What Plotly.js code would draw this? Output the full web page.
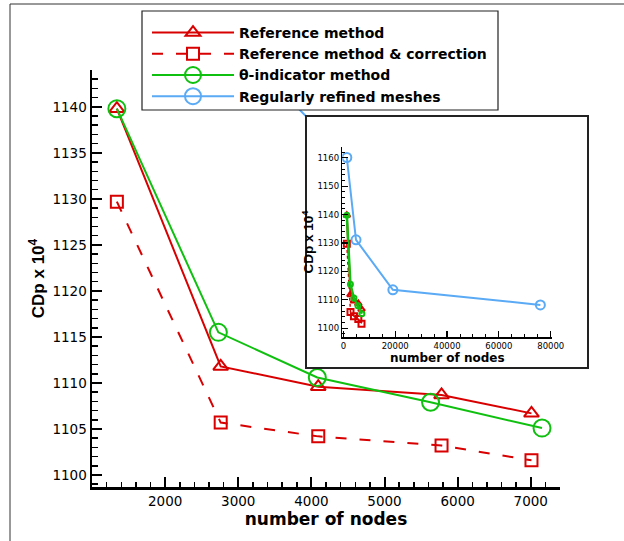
<!DOCTYPE html>
<html><head><meta charset="utf-8">
<script src="https://cdn.plot.ly/plotly-3.0.1.min.js"></script>
<style>html,body{margin:0;padding:0;background:#fff}#chart{width:624px;height:541px}</style>
</head><body><div id="chart"></div>
<script>
// ---- data ----
const seriesNames = ['Reference method', 'Reference method & correction', '\u03b8-indicator method', 'Regularly refined meshes'];
const refX   = [1340, 2760, 4094, 5780, 7010];
const refY   = [1139.8, 1111.8, 1109.6, 1108.7, 1106.7];
const corrX  = [1340, 2760, 4094, 5780, 7010];
const corrY  = [1129.7, 1105.7, 1104.2, 1103.2, 1101.6];
const thetaX = [1340, 2728, 4081, 5630, 7154];
const thetaY = [1139.8, 1115.5, 1110.6, 1107.9, 1105.1];
const regX   = [1340, 4890, 19100, 76000];
const regY   = [1160.1, 1131.1, 1113.5, 1108.2];
const mainXTicks  = [2000, 3000, 4000, 5000, 6000, 7000];
const mainYTicks  = [1100, 1105, 1110, 1115, 1120, 1125, 1130, 1135, 1140];
const insetXTicks = [0, 20000, 40000, 60000, 80000];
const insetYTicks = [1100, 1110, 1120, 1130, 1140, 1150, 1160];

// ---- styling ----
const RED = '#d80000', GREEN = '#10c010', BLUE = '#5aaaf5';
const W = 624, H = 541;
const px = v => v / W, py = v => 1 - v / H;
const tickFont = {family: 'DejaVu Sans', size: 13.5, color: '#000'};

function series(x, y, name, color, dash, symbol, msize, lw, xa, ya, legend) {
  return {
    type: 'scatter', mode: 'lines+markers', x: x, y: y, name: name,
    xaxis: xa, yaxis: ya, showlegend: legend, legendgroup: name,
    line: {color: color, width: lw, dash: dash},
    marker: {symbol: symbol, size: msize, color: color, line: {color: color, width: 2}},
    cliponaxis: true, hoverinfo: 'x+y'
  };
}

const traces = [
  series(refX, refY, seriesNames[0], RED, 'solid', 'triangle-up-open', 13, 2, 'x', 'y', true),
  series(corrX, corrY, seriesNames[1], RED, '11px,13px', 'square-open', 12, 2, 'x', 'y', true),
  series(thetaX, thetaY, seriesNames[2], GREEN, 'solid', 'circle-open', 17, 2, 'x', 'y', true),
  series(regX, regY, seriesNames[3], BLUE, 'solid', 'circle-open', 17, 2, 'x', 'y', true),
  // box subplot placeholder
  {type: 'scatter', x: [], y: [], xaxis: 'x2', yaxis: 'y2', showlegend: false, hoverinfo: 'skip'},
  // inset
  series(regX, regY, seriesNames[3], BLUE, 'solid', 'circle-open', 9, 2, 'x3', 'y3', false),
  series(corrX, corrY, seriesNames[1], RED, 'dot', 'square-open', 6, 1.5, 'x3', 'y3', false),
  series(refX, refY, seriesNames[0], RED, 'solid', 'triangle-up-open', 6, 2, 'x3', 'y3', false),
  series(thetaX, thetaY, seriesNames[2], GREEN, 'solid', 'circle-open', 5, 2.5, 'x3', 'y3', false)
];

const layout = {
  width: W, height: H,
  margin: {l: 0, r: 0, t: 0, b: 0},
  paper_bgcolor: '#fff', plot_bgcolor: '#fff',
  font: {family: 'DejaVu Sans', color: '#000'},
  showlegend: true,
  legend: {
    x: px(147), xanchor: 'left', y: py(17), yanchor: 'top',
    bgcolor: 'rgba(0,0,0,0)', borderwidth: 0,
    font: {family: 'DejaVu Sans', size: 14, weight: 'bold', color: '#000'},
    itemwidth: 82, traceorder: 'normal'
  },
  xaxis: {
    domain: [px(92), px(560)], range: [1000, 7400], anchor: 'y',
    tickmode: 'array', tickvals: mainXTicks, ticktext: mainXTicks.map(String),
    ticks: 'inside', ticklen: 10, tickwidth: 2, tickcolor: '#000',
    minor: {ticks: 'inside', ticklen: 5, tickwidth: 1.5, tickcolor: '#000', dtick: 200, tick0: 0, showgrid: false},
    showline: true, linewidth: 2.5, linecolor: '#000', mirror: false,
    showgrid: false, zeroline: false, tickfont: tickFont, automargin: false,
    title: {text: 'number of nodes', font: {family: 'DejaVu Sans', size: 17, weight: 'bold', color: '#000'}, standoff: 0}
  },
  yaxis: {
    domain: [py(487), py(70)], range: [1098.7, 1144], anchor: 'x',
    tickmode: 'array', tickvals: mainYTicks, ticktext: mainYTicks.map(String),
    ticks: 'inside', ticklen: 10, tickwidth: 2, tickcolor: '#000',
    minor: {ticks: 'inside', ticklen: 6, tickwidth: 1.5, tickcolor: '#000', dtick: 1, tick0: 1100, showgrid: false},
    showline: true, linewidth: 2.5, linecolor: '#000', mirror: false,
    showgrid: false, zeroline: false, tickfont: tickFont, automargin: false,
    title: {text: 'CDp x 10<sup>4</sup>', font: {family: 'Liberation Sans', size: 17, weight: 'bold', color: '#000'}, standoff: 4}
  },
  // white framed box behind the inset
  xaxis2: {
    domain: [px(307), px(587)], range: [0, 1], anchor: 'y2', showline: true, mirror: true,
    linewidth: 2, linecolor: '#222', showgrid: false, zeroline: false, ticks: '', showticklabels: false, fixedrange: true
  },
  yaxis2: {
    domain: [py(367), py(117)], range: [0, 1], anchor: 'x2', showline: true, mirror: true,
    linewidth: 2, linecolor: '#222', showgrid: false, zeroline: false, ticks: '', showticklabels: false, fixedrange: true
  },
  // inset
  xaxis3: {
    domain: [px(342.3), px(552.3)], range: [-400, 80600], anchor: 'y3',
    tickmode: 'array', tickvals: insetXTicks, ticktext: insetXTicks.map(String),
    ticks: 'inside', ticklen: 6, tickwidth: 1.2, tickcolor: '#000',
    minor: {ticks: 'inside', ticklen: 3, tickwidth: 1, tickcolor: '#000', dtick: 5000, tick0: 0, showgrid: false},
    showline: true, linewidth: 1.5, linecolor: '#000', showgrid: false, zeroline: false,
    tickfont: {family: 'DejaVu Sans', size: 8.5, color: '#000'}, automargin: false,
    title: {text: 'number of nodes', font: {family: 'DejaVu Sans', size: 12, weight: 'bold', color: '#000'}, standoff: 0}
  },
  yaxis3: {
    domain: [py(337.3), py(146.7)], range: [1096.8, 1163.9], anchor: 'x3',
    tickmode: 'array', tickvals: insetYTicks, ticktext: insetYTicks.map(String),
    ticks: 'inside', ticklen: 6, tickwidth: 1.2, tickcolor: '#000',
    minor: {ticks: 'inside', ticklen: 3, tickwidth: 1, tickcolor: '#000', dtick: 2, tick0: 1100, showgrid: false},
    showline: true, linewidth: 1.5, linecolor: '#000', showgrid: false, zeroline: false,
    tickfont: {family: 'DejaVu Sans', size: 8.5, color: '#000'}, automargin: false,
    title: {text: 'CDp x 10<sup>4</sup>', font: {family: 'Liberation Sans', size: 13.5, weight: 'bold', color: '#000'}, standoff: 0}
  },
  shapes: [
    // outer frame fragments
    {type: 'line', xref: 'paper', yref: 'paper', x0: px(10), x1: 1, y0: py(4), y1: py(4), line: {color: '#333', width: 1}, layer: 'above'},
    {type: 'line', xref: 'paper', yref: 'paper', x0: px(10), x1: px(10), y0: py(4), y1: 0, line: {color: '#333', width: 1}, layer: 'above'},
    // legend box
    {type: 'rect', xref: 'paper', yref: 'paper', x0: px(142), x1: px(498), y0: py(110), y1: py(11),
     fillcolor: '#fff', line: {color: '#222', width: 1.2}, layer: 'above'}
  ]
};

Plotly.newPlot('chart', traces, layout, {staticPlot: true, displayModeBar: false});
</script>
</body></html>
